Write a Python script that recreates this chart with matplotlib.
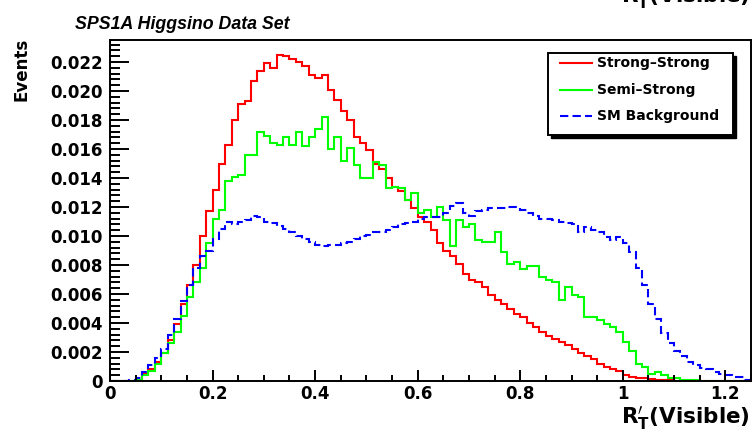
import numpy as np
import matplotlib
matplotlib.use("Agg")
import matplotlib.pyplot as plt
from matplotlib.ticker import MultipleLocator, FuncFormatter
from matplotlib.patches import Rectangle
from matplotlib.lines import Line2D

# histogram binning: 100 bins on [0, 1.25]
x_lo = 0.0
x_hi = 1.25
n_bins = 100

strong_strong = [
    0, 0, 0, 0, 0.0001, 0.0005, 0.0008, 0.0013, 0.0019, 0.0028,
    0.0039, 0.0053, 0.0066, 0.0080, 0.0100, 0.0117, 0.0132, 0.0150, 0.0163, 0.0180,
    0.0191, 0.0193, 0.0207, 0.0214, 0.0219, 0.0216, 0.0225, 0.0224, 0.0222, 0.0220,
    0.0217, 0.0211, 0.0209, 0.0211, 0.0201, 0.0194, 0.0186, 0.0180, 0.0168, 0.0164,
    0.0159, 0.0150, 0.0146, 0.0140, 0.0134, 0.0131, 0.0125, 0.0119, 0.0113, 0.0110,
    0.0104, 0.0095, 0.0090, 0.0086, 0.0081, 0.0074, 0.0070, 0.0068, 0.0065, 0.0059,
    0.0056, 0.0053, 0.0050, 0.0046, 0.0044, 0.0040, 0.0037, 0.0034, 0.0031, 0.0029,
    0.0027, 0.0025, 0.0022, 0.0019, 0.0017, 0.0015, 0.0012, 0.0010, 0.0008, 0.0007,
    0.0004, 0.0003, 0.0002, 0.0002, 0.00015, 0.0001, 0.0001, 0.00005, 0, 0,
    0, 0, 0, 0, 0, 0, 0, 0, 0, 0,
]

semi_strong = [
    0, 0, 0, 0, 0.0001, 0.0004, 0.0007, 0.0012, 0.0019, 0.0026,
    0.0034, 0.0045, 0.0058, 0.0068, 0.0078, 0.0095, 0.0112, 0.0118, 0.0138, 0.0141,
    0.0142, 0.0156, 0.0156, 0.0172, 0.0169, 0.0164, 0.0163, 0.0168, 0.0163, 0.0172,
    0.0162, 0.0168, 0.0174, 0.0182, 0.0160, 0.0168, 0.0152, 0.0161, 0.0149, 0.0140,
    0.0140, 0.0151, 0.0149, 0.0133, 0.0134, 0.0133, 0.0125, 0.0130, 0.0116, 0.0118,
    0.0113, 0.0120, 0.0111, 0.0093, 0.0111, 0.0106, 0.0108, 0.0097, 0.0096, 0.0096,
    0.0103, 0.0089, 0.0081, 0.0082, 0.0077, 0.0079, 0.0079, 0.0072, 0.0070, 0.0068,
    0.0056, 0.0065, 0.0059, 0.0058, 0.0044, 0.0044, 0.0042, 0.0039, 0.0037, 0.0034,
    0.0027, 0.0021, 0.0012, 0.0010, 0.0005, 0.0006, 0.0004, 0.0002, 0.0002, 0.0001,
    0.0001, 0.00005, 0, 0, 0, 0, 0, 0, 0, 0,
]

sm_background = [
    0, 0, 0, 0.00005, 0.0002, 0.0006, 0.0011, 0.0016, 0.0022, 0.0032,
    0.0043, 0.0055, 0.0066, 0.0078, 0.0086, 0.0090, 0.0098, 0.0105, 0.0110, 0.0108,
    0.0110, 0.0111, 0.0114, 0.0113, 0.0110, 0.0109, 0.0107, 0.0105, 0.0103, 0.0100,
    0.0098, 0.0096, 0.0094, 0.0093, 0.0094, 0.0094, 0.0095, 0.0096, 0.0098, 0.0100,
    0.0101, 0.0103, 0.0103, 0.0104, 0.0106, 0.0108, 0.0109, 0.0110, 0.0112, 0.0113,
    0.0113, 0.0113, 0.0116, 0.0121, 0.0123, 0.0116, 0.0114, 0.0117, 0.0118, 0.0119,
    0.0119, 0.0119, 0.0120, 0.0120, 0.0118, 0.0116, 0.0114, 0.0112, 0.0112, 0.0111,
    0.0110, 0.0109, 0.0108, 0.0103, 0.0106, 0.0104, 0.0103, 0.0099, 0.0097, 0.0099,
    0.0095, 0.0089, 0.0078, 0.0066, 0.0053, 0.0043, 0.0033, 0.0026, 0.0021, 0.0017,
    0.0013, 0.0011, 0.0009, 0.0008, 0.0006, 0.0005, 0.0004, 0.0003, 0.0003, 0.0001,
]

labels = ["Strong\u2013Strong", "Semi\u2013Strong", "SM Background"]
colors = ["#ff0000", "#00ff00", "#0000ff"]
styles = ["-", "-", (0, (4, 2))]

title = "SPS1A Higgsino Data Set"
xlabel = r"$\mathbf{R}_{\mathbf{T}}^{\prime}$(Visible)"
ylabel = "Events"

bold = dict(family="DejaVu Sans", weight="bold")

fig = plt.figure(figsize=(7.53, 4.40), dpi=100)
ax = fig.add_axes([110 / 753, 1 - 381 / 440, 641 / 753, 341 / 440])

edges = np.linspace(x_lo, x_hi, n_bins + 1)
series = [strong_strong, semi_strong, sm_background]
for vals, c, ls in zip(series, colors, styles):
    ax.stairs(vals, edges, color=c, linestyle=ls, linewidth=1.5, baseline=None)

ax.set_xlim(0, 1.25)
ax.set_ylim(0, 0.02352)

ax.xaxis.set_major_locator(MultipleLocator(0.2))
ax.xaxis.set_minor_locator(MultipleLocator(0.05))
ax.yaxis.set_major_locator(MultipleLocator(0.002))
ax.yaxis.set_minor_locator(MultipleLocator(0.0004))
ax.xaxis.set_major_formatter(FuncFormatter(lambda v, p: "%g" % round(v, 3)))
ax.yaxis.set_major_formatter(FuncFormatter(lambda v, p: "0" if abs(v) < 1e-9 else "%.3f" % v))

ax.tick_params(axis="both", which="both", direction="in", top=False, right=False, width=1.4)
ax.tick_params(axis="y", which="major", length=14, pad=5)
ax.tick_params(axis="y", which="minor", length=7)
ax.tick_params(axis="x", which="major", length=8, pad=3)
ax.tick_params(axis="x", which="minor", length=4.3)
for lab in ax.get_xticklabels() + ax.get_yticklabels():
    lab.set_fontproperties(matplotlib.font_manager.FontProperties(**bold, size=12))
for sp in ax.spines.values():
    sp.set_linewidth(1.4)

fig.text(75 / 753, 1 - 29 / 440, title, family="Liberation Sans", weight="bold",
         style="italic", fontsize=12.8, va="baseline", ha="left")
fig.text(22 / 753, 1 - 38 / 440, ylabel, rotation=90, va="top", ha="center",
         fontsize=12, **bold)
fig.text(750 / 753, 1 - 418 / 440, xlabel, ha="right", va="center", fontsize=15.5, **bold)
# remnant of the panel above, cut by the top edge
fig.text(750 / 753, 1 + 3 / 440, xlabel, ha="right", va="center", fontsize=15.5, **bold)

# ROOT style legend box with a solid shadow
def px(x, y):
    return (x - 110) / 641, (381 - y) / 341

x0, y0 = px(548, 135)
x1, y1 = px(733, 53)
sx, sy = px(551, 138)
ax.add_patch(Rectangle((sx, sy), x1 - x0, y1 - y0, transform=ax.transAxes,
                       facecolor="black", edgecolor="black", zorder=5, clip_on=False))
ax.add_patch(Rectangle((x0, y0), x1 - x0, y1 - y0, transform=ax.transAxes,
                       facecolor="white", edgecolor="black", linewidth=1.4, zorder=6,
                       clip_on=False))
for i, (lab, c, ls) in enumerate(zip(labels, colors, styles)):
    ly = [63, 90, 116][i]
    a, b = px(560, ly)
    a2, _ = px(592, ly)
    ax.add_line(Line2D([a, a2], [b, b], transform=ax.transAxes, color=c, linestyle=ls,
                       linewidth=1.5, zorder=7))
    t, _ = px(597, ly)
    ax.text(t, b, lab, transform=ax.transAxes, va="center", ha="left", fontsize=10,
            zorder=7, **bold)

fig.savefig("out.png", dpi=100)
